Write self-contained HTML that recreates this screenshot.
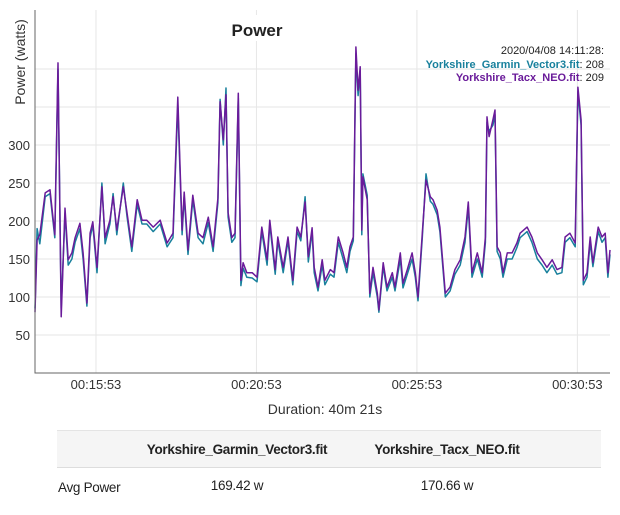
<!DOCTYPE html>
<html><head><meta charset="utf-8"><style>
body{margin:0;background:#fff;font-family:"Liberation Sans",sans-serif;}
#wrap{position:relative;width:620px;height:515px;overflow:hidden}
svg text{font-family:"Liberation Sans",sans-serif}
.abs{position:absolute;white-space:nowrap;color:#222;font-size:13.5px;letter-spacing:-0.3px}
.c{transform:translateX(-50%)}
</style></head><body><div id="wrap">
<svg id="chart" width="620" height="425"></svg>
<div>
<div class="abs" style="left:57px;top:430px;width:544px;height:36px;background:#f5f5f5;border-top:1px solid #e4e4e4;border-bottom:1px solid #ddd"></div>
<div class="abs c" style="left:237px;top:442px;font-weight:bold">Yorkshire_Garmin_Vector3.fit</div>
<div class="abs c" style="left:447px;top:442px;font-weight:bold">Yorkshire_Tacx_NEO.fit</div>
<div class="abs" style="left:58px;top:480px">Avg Power</div>
<div class="abs c" style="left:237px;top:478px">169.42 w</div>
<div class="abs c" style="left:447px;top:478px">170.66 w</div>
</div>
</div>
<script>
const times=[839,843,848,858,867,876,882,888,895,901,908,914,923,929,936,942,947,955,964,970,979,985,992,1004,1011,1020,1030,1039,1048,1060,1073,1086,1097,1106,1114,1118,1125,1134,1144,1153,1163,1172,1181,1185,1191,1196,1200,1207,1213,1219,1224,1228,1235,1245,1254,1263,1273,1278,1288,1293,1303,1312,1321,1329,1336,1344,1350,1357,1361,1368,1376,1381,1391,1398,1406,1415,1422,1428,1434,1439,1443,1447,1450,1452,1460,1465,1471,1479,1482,1490,1497,1507,1512,1522,1527,1535,1544,1550,1555,1563,1570,1578,1583,1591,1596,1606,1615,1624,1634,1643,1649,1656,1666,1675,1681,1684,1688,1695,1699,1703,1709,1714,1722,1731,1740,1746,1759,1768,1778,1787,1796,1806,1815,1824,1830,1839,1849,1854,1860,1864,1871,1877,1882,1892,1899,1905,1910,1914];
const tacx=[80,175,182,237,241,182,408,74,217,149,158,178,197,158,92,184,199,139,245,178,201,232,188,245,211,166,228,201,201,192,201,171,184,363,188,238,162,234,184,178,205,166,230,357,307,366,211,178,184,368,122,145,132,132,126,192,149,201,136,179,139,179,122,192,179,225,153,191,139,113,149,122,136,132,179,158,139,166,179,429,372,403,188,258,228,105,139,105,83,145,113,132,113,158,118,136,158,132,100,184,254,232,228,214,192,105,113,136,149,179,225,132,158,132,179,337,311,333,346,166,158,132,158,158,171,184,192,179,158,149,139,149,136,139,179,184,171,376,333,122,132,179,145,192,179,184,132,162];
const garmin=[85,190,170,232,236,178,400,85,210,142,150,172,190,150,88,178,195,132,250,170,196,236,182,250,206,160,222,196,196,186,196,166,178,352,182,232,156,228,178,170,198,160,224,360,300,375,205,172,178,362,115,138,126,125,120,186,142,196,130,174,132,174,116,186,174,232,146,186,132,108,142,116,130,126,172,150,132,160,174,420,365,398,182,262,234,100,132,100,80,140,108,126,108,150,112,130,150,126,95,178,262,226,222,208,186,100,108,130,142,172,218,126,150,126,172,330,318,326,340,160,150,126,150,150,165,178,186,172,150,142,132,142,130,132,172,178,166,370,326,116,126,172,140,186,172,178,126,156];
const yTicks=[50,100,150,200,250,300];
const yGrid=[50,100,150,200,250,300,350,400];
const xTicks=[953,1253,1553,1853];
const xTickLabels=["00:15:53","00:20:53","00:25:53","00:30:53"];
const NS="http://www.w3.org/2000/svg";
const svg=document.getElementById('chart');
const X0=35,X1=610,Y0=373;
const tMin=839,tMax=1914;
function xs(t){return X0+(t-tMin)/(tMax-tMin)*(X1-X0);}
function ys(v){return Y0-v*0.76;}
function mk(tag,attrs){const e=document.createElementNS(NS,tag);for(const k in attrs)e.setAttribute(k,attrs[k]);svg.appendChild(e);return e;}
yGrid.forEach(v=>{const l=mk('line',{x1:X0,x2:X1,y1:ys(v),y2:ys(v),stroke:'#e6e6e6','stroke-width':1});

});
xTicks.forEach(t=>{const l=mk('line',{x1:xs(t),x2:xs(t),y1:10,y2:Y0,stroke:'#e6e6e6','stroke-width':1});

});
yTicks.forEach(v=>{const e=mk('text',{x:30,y:ys(v)+5,'text-anchor':'end','font-size':13,fill:'#333'});e.textContent=v;

});
xTicks.forEach((t,i)=>{const e=mk('text',{x:xs(t),y:389,'text-anchor':'middle','font-size':13,fill:'#333'});e.textContent=xTickLabels[i];

});
function line(vals,col,name){const d=vals.map((v,i)=>(i?'L':'M')+xs(times[i]).toFixed(1)+','+ys(v).toFixed(1)).join('');
const p=mk('path',{d:d,fill:'none',stroke:col,'stroke-width':1.5,'stroke-linejoin':'round'});

}
line(garmin,'#18809c','series-garmin');
line(tacx,'#6a1b9a','series-tacx');
const ax=mk('path',{d:`M${X0},10V${Y0}H${X1}`,fill:'none',stroke:'#666','stroke-width':1});


const yt=mk('text',{x:0,y:0,transform:'translate(25,62) rotate(-90)','text-anchor':'middle','font-size':14,fill:'#333'});yt.textContent='Power (watts)';


const tb=mk('rect',{x:222,y:15,width:70,height:26,fill:'#fff'});


const tt=mk('text',{x:257,y:36,'text-anchor':'middle','font-size':17,'font-weight':'bold',fill:'#222'});tt.textContent='Power';


const xt=mk('text',{x:325,y:414,'text-anchor':'middle','font-size':14,fill:'#333'});xt.textContent='Duration: 40m 21s';


const l1=mk('text',{x:604,y:54,'text-anchor':'end','font-size':11,fill:'#222'});l1.textContent='2020/04/08 14:11:28:';


const l2=mk('text',{x:604,y:68,'text-anchor':'end','font-size':11,fill:'#222'});l2.innerHTML='<tspan fill="#18809c" font-weight="bold">Yorkshire_Garmin_Vector3.fit</tspan>: 208';


const l3=mk('text',{x:604,y:81,'text-anchor':'end','font-size':11,fill:'#222'});l3.innerHTML='<tspan fill="#6a1b9a" font-weight="bold">Yorkshire_Tacx_NEO.fit</tspan>: 209';


</script></body></html>
